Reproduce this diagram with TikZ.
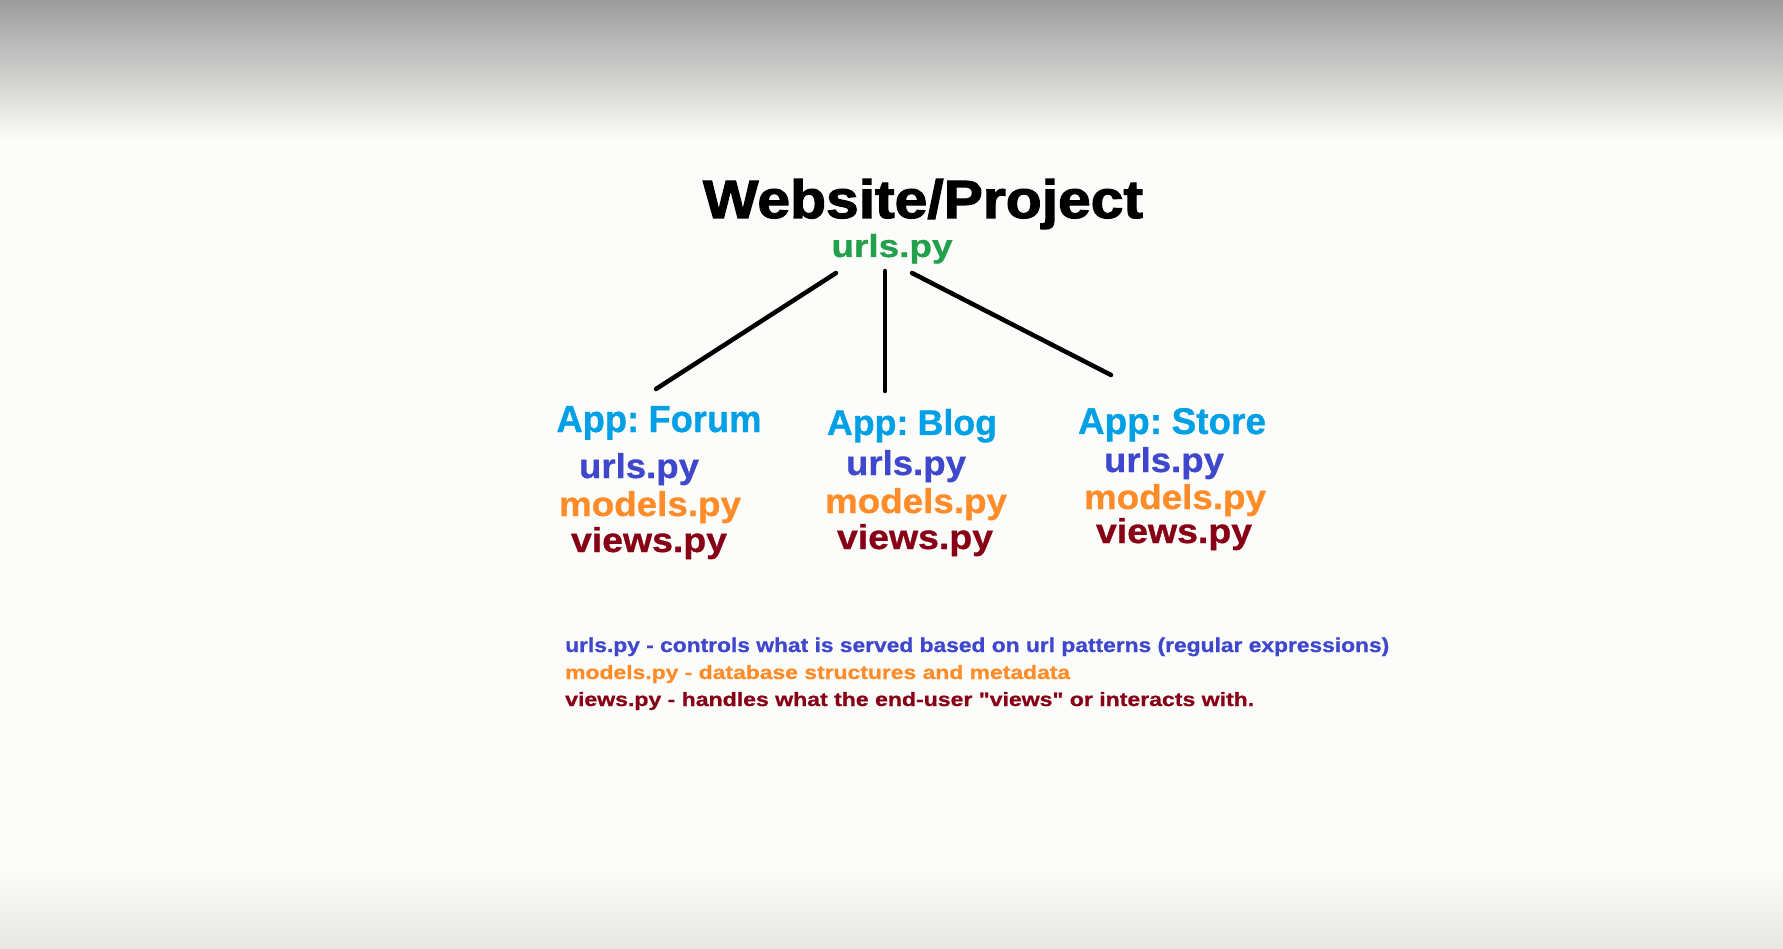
\documentclass[tikz,border=0pt]{standalone}
\usepackage{graphicx}
\usepackage{fontspec}
\setmainfont{Liberation Sans}
\newfontfamily\heavyfont{Liberation Sans}[UprightFont={* Bold}, FakeBold=2]
\newfontfamily\plainfont{Liberation Sans}[UprightFont={* Bold}, FakeBold=0.8]
\newcommand{\fitto}[3]{\resizebox{#1pt}{#2pt}{#3}}
\newcommand{\appsp}{\hspace{0.26em}}
\definecolor{bgc}{RGB}{252,253,250}
\definecolor{topc}{RGB}{155,155,155}
\definecolor{botc}{RGB}{230,232,228}
\definecolor{projgreen}{RGB}{34,160,75}
\definecolor{appblue}{RGB}{0,160,230}
\definecolor{urlblue}{RGB}{63,72,204}
\definecolor{modorange}{RGB}{255,140,40}
\definecolor{viewred}{RGB}{136,0,21}
\tikzset{
  lbl/.style={inner sep=0pt, anchor=base, font=\plainfont\fontsize{30}{32}\selectfont},
  title/.style={inner sep=0pt, anchor=base, text=black, font=\heavyfont\fontsize{50}{52}\selectfont},
  projurl/.style={lbl, text=projgreen},
  applabel/.style={lbl, text=appblue},
  fileurl/.style={lbl, text=urlblue},
  filemodel/.style={lbl, text=modorange},
  fileview/.style={lbl, text=viewred},
  legend/.style={inner sep=0pt, anchor=base west, font=\plainfont\fontsize{18}{20}\selectfont},
  branch/.style={line width=4.5pt, black, line cap=round},
}
\begin{document}
\begin{tikzpicture}[x=1pt,y=-1pt]
\useasboundingbox (0,0) rectangle (1783,949);
\fill[bgc] (0,0) rectangle (1783,949);
\shade[top color=topc, bottom color=bgc] (0,0) rectangle (1783,140);
\shade[top color=bgc, bottom color=botc] (0,865) rectangle (1783,949);

\node[title] (proj) at (923,218) {\fitto{440}{39}{Website/Project}};
\node[projurl] (purl) at (892,257) {\fitto{121}{23}{urls.py}};

\coordinate (l0) at (836,273);
\coordinate (m0) at (885,271);
\coordinate (r0) at (912,273);
\coordinate (l1) at (656,389);
\coordinate (m1) at (885,391);
\coordinate (r1) at (1111,375);
\draw[branch] (l0) -- (l1);
\draw[branch] (m0) -- (m1);
\draw[branch] (r0) -- (r1);

\node[applabel] (forum) at (659,432) {\fitto{205}{26}{App:\appsp Forum}};
\node[applabel] (blog) at (912,435) {\fitto{170}{26}{App:\appsp Blog}};
\node[applabel] (store) at (1172,434) {\fitto{188}{26}{App:\appsp Store}};

\node[fileurl] (furl) at (639,478) {\fitto{120}{25}{urls.py}};
\node[filemodel] (fmod) at (650,516) {\fitto{182}{25}{models.py}};
\node[fileview] (fview) at (649,552) {\fitto{156}{25}{views.py}};

\node[fileurl] (burl) at (906,475) {\fitto{120}{25}{urls.py}};
\node[filemodel] (bmod) at (916,513) {\fitto{182}{25}{models.py}};
\node[fileview] (bview) at (915,549) {\fitto{156}{25}{views.py}};

\node[fileurl] (surl) at (1164,472) {\fitto{120}{25}{urls.py}};
\node[filemodel] (smod) at (1175,509) {\fitto{182}{25}{models.py}};
\node[fileview] (sview) at (1174,543) {\fitto{156}{25}{views.py}};

\node[legend, text=urlblue] (lg1) at (565,652) {\fitto{824}{14.5}{urls.py - controls what is served based on url patterns (regular expressions)}};
\node[legend, text=modorange] (lg2) at (565,679) {\fitto{505}{14}{models.py - database structures and metadata}};
\node[legend, text=viewred] (lg3) at (565,706) {\fitto{689}{14}{views.py - handles what the end-user "views" or interacts with.}};
\end{tikzpicture}
\end{document}
